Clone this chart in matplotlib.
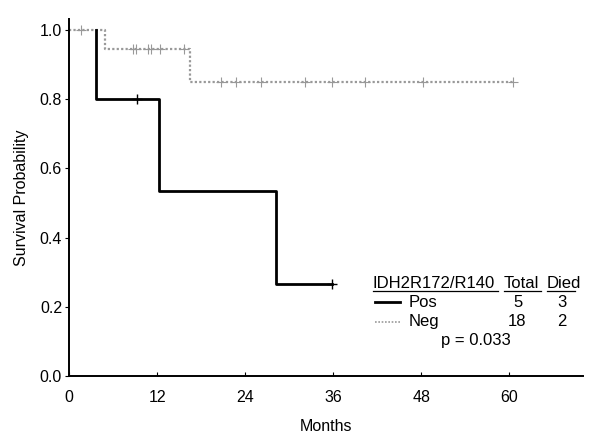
import numpy as np
import matplotlib.pyplot as plt

plt.rcParams['font.family'] = ['Liberation Sans', 'DejaVu Sans']

# Kaplan-Meier step curves
pos_times = [0, 3.7, 12.3, 28.2, 35.8]
pos_surv = [1.0, 0.8, 0.533, 0.267, 0.267]
pos_cens_t = [9.3, 35.8]
pos_cens_s = [0.8, 0.267]

neg_times = [0, 4.9, 16.5, 60.5]
neg_surv = [1.0, 0.944, 0.85, 0.85]
neg_cens_t = [1.6, 8.7, 9.1, 10.7, 11.2, 12.4, 15.6,
              20.7, 22.7, 26.2, 32.1, 35.8, 40.3, 48.2, 60.5]
neg_cens_s = [1.0] + [0.944] * 6 + [0.85] * 8

xticks = [0, 12, 24, 36, 48, 60]
yticks = [0.0, 0.2, 0.4, 0.6, 0.8, 1.0]


def km_path(t, s):
    # post-step path: horizontal then vertical at each time
    xs = np.repeat(t, 2)[1:]
    ys = np.repeat(s, 2)[:-1]
    return xs, ys


fig = plt.figure(figsize=(6.01, 4.38), dpi=100)
ax = fig.add_axes([0.1148, 0.1416, 0.855, 0.814])

nx, ny = km_path(neg_times, neg_surv)
ax.plot(nx, ny, color='#999999', lw=1.6, linestyle=(0, (1, 1)))
ax.plot(neg_cens_t, neg_cens_s, '+', color='#999999', ms=7, mew=0.8)

px_, py_ = km_path(pos_times, pos_surv)
# the solid curve's first flat piece at 1.0 is hidden under the dotted one
ax.plot(px_[1:], py_[1:], color='black', lw=2.0)
ax.plot(pos_cens_t, pos_cens_s, '+', color='black', ms=7, mew=1.0)

ax.set_xlim(0, 70)
ax.set_ylim(0, 1.03)
ax.set_xticks(xticks)
ax.set_yticks(yticks)
ax.set_yticklabels(['%.1f' % v for v in yticks])
ax.spines['top'].set_visible(False)
ax.spines['right'].set_visible(False)
for s in ['left', 'bottom']:
    ax.spines[s].set_linewidth(1.4)
ax.tick_params(axis='x', direction='in', length=3, labelsize=11.5, pad=10)
ax.tick_params(axis='y', direction='out', length=3, labelsize=11.5, pad=2)
ax.set_xlabel('Months', fontsize=11.5, labelpad=10)
ax.set_ylabel('Survival Probability', fontsize=11.5, labelpad=8)

# legend table
fs = 12
def px(x, y):
    return (x / 601.0, 1 - y / 438.0)

fig.text(*px(373, 288), 'IDH2R172/R140', fontsize=fs, va='baseline')
fig.text(*px(504, 288), 'Total', fontsize=fs, va='baseline')
fig.text(*px(547, 288), 'Died', fontsize=fs, va='baseline')
for x0, x1 in [(373, 498), (504, 541), (547, 575)]:
    fig.add_artist(plt.Line2D([x0 / 601.0, x1 / 601.0], [1 - 290.5 / 438.0] * 2,
                              color='black', lw=0.9))

fig.add_artist(plt.Line2D([375 / 601.0, 400 / 601.0], [1 - 302 / 438.0] * 2,
                          color='black', lw=2.0))
fig.add_artist(plt.Line2D([375 / 601.0, 400 / 601.0], [1 - 322 / 438.0] * 2,
                          color='#999999', lw=1.2, linestyle=(0, (1, 1))))
fig.text(*px(409, 307), 'Pos', fontsize=fs, va='baseline')
fig.text(*px(409, 326), 'Neg', fontsize=fs, va='baseline')
fig.text(*px(518, 307), '5', fontsize=fs, va='baseline', ha='center')
fig.text(*px(517, 326), '18', fontsize=fs, va='baseline', ha='center')
fig.text(*px(562, 307), '3', fontsize=fs, va='baseline', ha='center')
fig.text(*px(562, 326), '2', fontsize=fs, va='baseline', ha='center')
fig.text(*px(441, 345), 'p = 0.033', fontsize=fs, va='baseline')

fig.savefig('out.png', dpi=100)
